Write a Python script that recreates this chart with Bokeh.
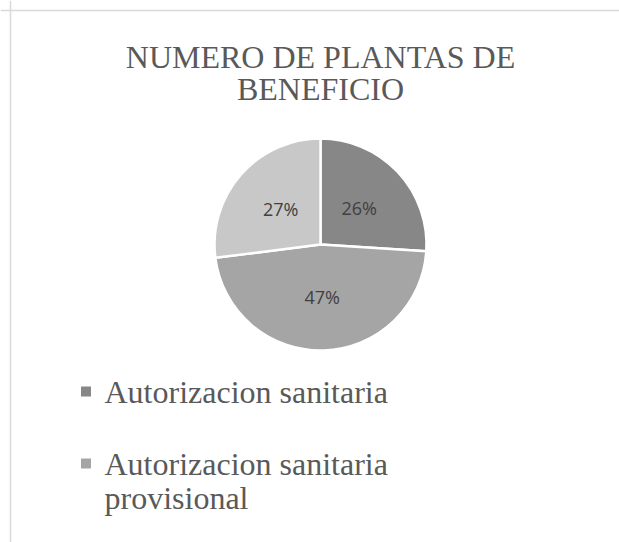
import math
import textwrap
from bokeh.plotting import figure
from bokeh.models import Range1d, Span, ColumnDataSource
from bokeh.core.properties import value
from bokeh.embed import file_html
from bokeh.resources import INLINE

# ---- data ----
title_lines = ["NUMERO DE PLANTAS DE", "BENEFICIO"]
categories = ["Autorizacion sanitaria", "Autorizacion sanitaria provisional", "Otros"]
shares = [26, 47, 27]
colors = ["#878787", "#a5a5a5", "#c8c8c8"]
legend_shown = 2  # only the first two legend entries are visible

W, H = 619, 542
p = figure(width=W, height=H, output_backend="svg", toolbar_location=None,
           x_range=Range1d(0, W), y_range=Range1d(0, H), min_border=0)
p.axis.visible = False
p.grid.visible = False
p.outline_line_color = None
p.background_fill_color = "white"
p.border_fill_color = "white"

def X(ix):
    return ix

def Y(iy):
    return H - iy

# border (top and left edges of chart area)
p.add_layout(Span(location=Y(10), dimension="width", line_color="#d9d9d9", line_width=1.5))
p.add_layout(Span(location=X(10), dimension="height", line_color="#d9d9d9", line_width=1.5))

# title
for i, line in enumerate(title_lines):
    p.text(x=[X(320)], y=[Y(56 + i * 32)], text=[line], text_align="center",
           text_baseline="alphabetic", text_font=value("Liberation Serif"),
           text_font_size=value("32px"), text_color="#595959")

# pie
cx, cy, R = X(320), Y(244), 106
total = sum(shares)
starts, ends, mids = [], [], []
cum = 0.0
for s in shares:
    a0 = math.pi / 2 - 2 * math.pi * cum / total
    cum += s
    a1 = math.pi / 2 - 2 * math.pi * cum / total
    starts.append(a0)
    ends.append(a1)
    mids.append((a0 + a1) / 2)

src = ColumnDataSource(dict(start=starts, end=ends, color=colors))
p.wedge(x=cx, y=cy, radius=R, start_angle="start", end_angle="end",
        direction="clock", fill_color="color", line_color="white",
        line_width=2.5, source=src)

lab_r = 0.5 * R
lx = [cx + lab_r * math.cos(m) for m in mids]
ly = [cy + lab_r * math.sin(m) for m in mids]
p.text(x=lx, y=ly, text=[f"{s}%" for s in shares], text_align="center",
       text_baseline="middle", text_font=value("Open Sans"),
       text_font_size=value("18px"), text_color="#404040")

# legend
entry_y = [Y(391), Y(463)]
line_h = 34
for k in range(legend_shown):
    lines = textwrap.wrap(categories[k], width=22)
    by = entry_y[k]
    p.scatter(x=[X(85.5)], y=[by], marker="square", size=10,
              fill_color=colors[k], line_color=None)
    for j, ln in enumerate(lines):
        p.text(x=[X(104)], y=[by - j * line_h], text=[ln], text_align="left",
               text_baseline="alphabetic", text_font=value("Liberation Serif"),
               text_font_size=value("32px"), text_color="#595959")

open("out.html", "w").write(file_html(p, INLINE))
